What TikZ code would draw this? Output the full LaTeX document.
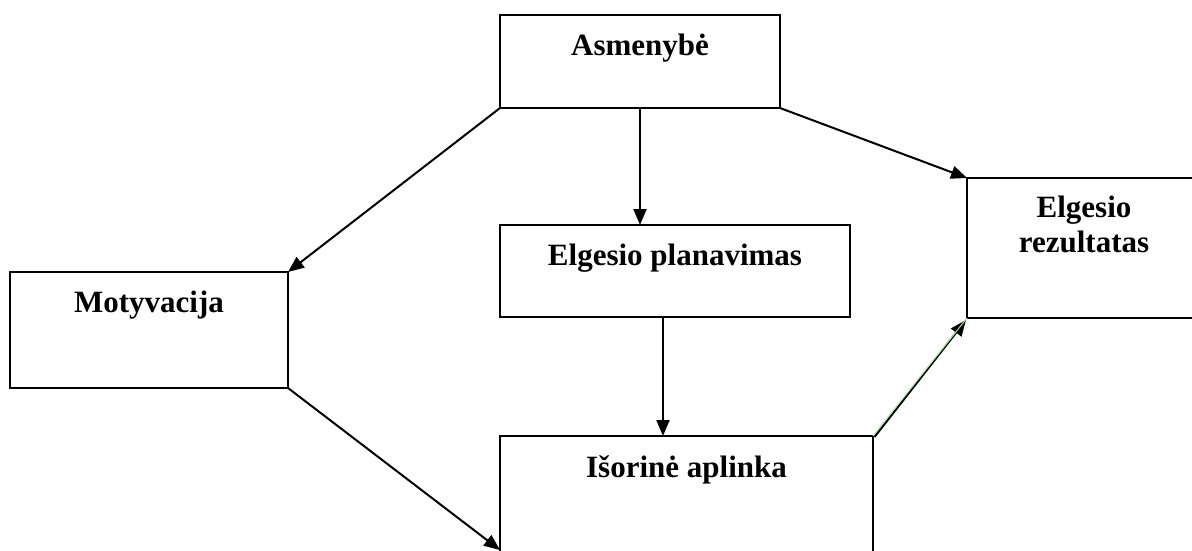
\documentclass[tikz,border=0pt]{standalone}
\usepackage{fontspec}
\setmainfont{Liberation Serif}
\usepackage{xcolor}
\usepackage{tikz}
\usetikzlibrary{positioning,arrows.meta}
\definecolor{ink}{HTML}{000000}
\definecolor{salot}{HTML}{A6DCA6}

\begin{document}
\begin{tikzpicture}[x=1pt,y=-1pt,
  blok/.style={draw=ink,line width=2pt,rectangle,inner sep=0pt,outer sep=0pt},
  tekstas/.style={font=\fontsize{31}{35}\selectfont\bfseries,text=ink,inner sep=0pt,anchor=base,align=center},
  rodykle/.style={-{Triangle[length=16pt,width=13pt]},line width=2pt,draw=ink}]
  \useasboundingbox (0,0) rectangle (1192,550);
  \clip (0,0) rectangle (1192,550);
  \node[blok,minimum width=280pt,minimum height=93pt] (asm) at (640,61.5){};
  \node[blok,minimum width=350pt,minimum height=92pt] (plan) at (675,271){};
  \node[blok,minimum width=278pt,minimum height=116pt] (mot) at (149,330){};
  \node[blok,minimum width=234pt,minimum height=140pt] (rez) at (1084,248){};
  \node[blok,minimum width=373pt,minimum height=118pt] (isor) at (686.5,495){};
  \node[tekstas] (asmt) at ([yshift=-40pt]asm.north) {Asmenybė};
  \node[tekstas] (plant) at ([yshift=-40pt]plan.north) {Elgesio planavimas};
  \node[tekstas] (mott) at ([yshift=-40pt]mot.north) {Motyvacija};
  \node[tekstas] (rezt) at ([yshift=-74pt]rez.north) {Elgesio\\rezultatas};
  \node[tekstas] (isort) at ([yshift=-41pt]isor.north) {Išorinė aplinka};
  \draw[rodykle] (asm.south west) -- (mot.north east);
  \draw[rodykle] (asm.south) -- (asm.south |- plan.north);
  \draw[rodykle] (asm.south east) -- (rez.north west);
  \draw[rodykle] ([xshift=-12pt]plan.south) -- ([xshift=-12pt]plan.south |- isor.north);
  \draw[rodykle] (mot.south east) -- ([yshift=4pt]isor.south west);
  \draw[rodykle] ([xshift=1.5pt,yshift=-1pt]isor.north east) -- ([xshift=-1pt,yshift=-2pt]rez.south west);
  \draw[salot,line width=1pt] (isor.north east) -- (rez.south west);
\end{tikzpicture}
\end{document}
